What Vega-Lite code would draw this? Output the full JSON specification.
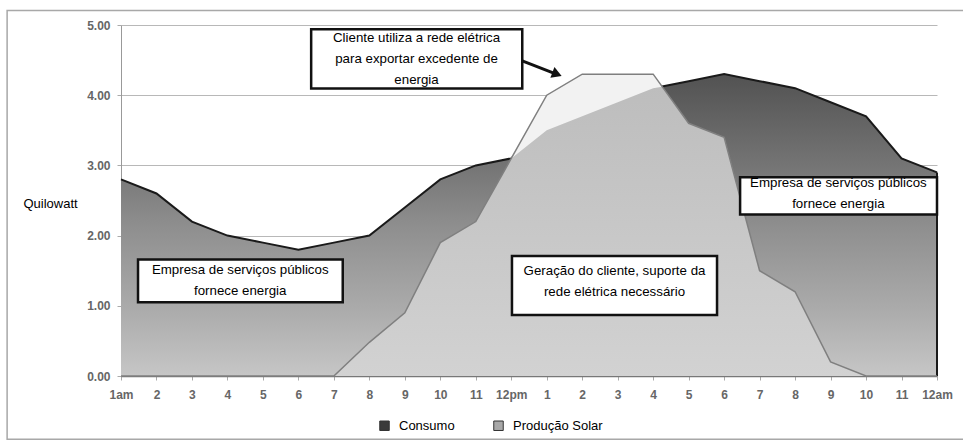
{
  "$schema": "https://vega.github.io/schema/vega-lite/v6.json",
  "autosize": "none",
  "width": 816,
  "height": 351,
  "padding": {"left": 121, "top": 25, "right": 26, "bottom": 68},
  "background": "white",
  "config": {"view": {"stroke": null}, "font": "Liberation Sans"},
  "datasets": {
    "dados": [
      {"h": 1, "serie": "Consumo", "v": 2.8},
      {"h": 2, "serie": "Consumo", "v": 2.6},
      {"h": 3, "serie": "Consumo", "v": 2.2},
      {"h": 4, "serie": "Consumo", "v": 2.0},
      {"h": 5, "serie": "Consumo", "v": 1.9},
      {"h": 6, "serie": "Consumo", "v": 1.8},
      {"h": 7, "serie": "Consumo", "v": 1.9},
      {"h": 8, "serie": "Consumo", "v": 2.0},
      {"h": 9, "serie": "Consumo", "v": 2.4},
      {"h": 10, "serie": "Consumo", "v": 2.8},
      {"h": 11, "serie": "Consumo", "v": 3.0},
      {"h": 12, "serie": "Consumo", "v": 3.1},
      {"h": 13, "serie": "Consumo", "v": 3.5},
      {"h": 14, "serie": "Consumo", "v": 3.7},
      {"h": 15, "serie": "Consumo", "v": 3.9},
      {"h": 16, "serie": "Consumo", "v": 4.1},
      {"h": 17, "serie": "Consumo", "v": 4.2},
      {"h": 18, "serie": "Consumo", "v": 4.3},
      {"h": 19, "serie": "Consumo", "v": 4.2},
      {"h": 20, "serie": "Consumo", "v": 4.1},
      {"h": 21, "serie": "Consumo", "v": 3.9},
      {"h": 22, "serie": "Consumo", "v": 3.7},
      {"h": 23, "serie": "Consumo", "v": 3.1},
      {"h": 24, "serie": "Consumo", "v": 2.9},
      {"h": 1, "serie": "Produção Solar", "v": 0},
      {"h": 2, "serie": "Produção Solar", "v": 0},
      {"h": 3, "serie": "Produção Solar", "v": 0},
      {"h": 4, "serie": "Produção Solar", "v": 0},
      {"h": 5, "serie": "Produção Solar", "v": 0},
      {"h": 6, "serie": "Produção Solar", "v": 0},
      {"h": 7, "serie": "Produção Solar", "v": 0},
      {"h": 8, "serie": "Produção Solar", "v": 0.48},
      {"h": 9, "serie": "Produção Solar", "v": 0.9},
      {"h": 10, "serie": "Produção Solar", "v": 1.9},
      {"h": 11, "serie": "Produção Solar", "v": 2.2},
      {"h": 12, "serie": "Produção Solar", "v": 3.1},
      {"h": 13, "serie": "Produção Solar", "v": 4.0},
      {"h": 14, "serie": "Produção Solar", "v": 4.3},
      {"h": 15, "serie": "Produção Solar", "v": 4.3},
      {"h": 16, "serie": "Produção Solar", "v": 4.3},
      {"h": 17, "serie": "Produção Solar", "v": 3.6},
      {"h": 18, "serie": "Produção Solar", "v": 3.4},
      {"h": 19, "serie": "Produção Solar", "v": 1.5},
      {"h": 20, "serie": "Produção Solar", "v": 1.2},
      {"h": 21, "serie": "Produção Solar", "v": 0.2},
      {"h": 22, "serie": "Produção Solar", "v": 0},
      {"h": 23, "serie": "Produção Solar", "v": 0},
      {"h": 24, "serie": "Produção Solar", "v": 0},
      {"h": 7, "serie": "Autoconsumo", "v": 0},
      {"h": 8, "serie": "Autoconsumo", "v": 0.48},
      {"h": 9, "serie": "Autoconsumo", "v": 0.9},
      {"h": 10, "serie": "Autoconsumo", "v": 1.9},
      {"h": 11, "serie": "Autoconsumo", "v": 2.2},
      {"h": 12, "serie": "Autoconsumo", "v": 3.1},
      {"h": 13, "serie": "Autoconsumo", "v": 3.5},
      {"h": 14, "serie": "Autoconsumo", "v": 3.7},
      {"h": 15, "serie": "Autoconsumo", "v": 3.9},
      {"h": 16, "serie": "Autoconsumo", "v": 4.1},
      {"h": 16.25, "serie": "Autoconsumo", "v": 4.12},
      {"h": 17, "serie": "Autoconsumo", "v": 3.6},
      {"h": 18, "serie": "Autoconsumo", "v": 3.4},
      {"h": 19, "serie": "Autoconsumo", "v": 1.5},
      {"h": 20, "serie": "Autoconsumo", "v": 1.2},
      {"h": 21, "serie": "Autoconsumo", "v": 0.2},
      {"h": 22, "serie": "Autoconsumo", "v": 0}
    ],
    "caixas": [
      {"h": 6.36, "h2": 12.31, "v": 4.94, "v2": 4.095},
      {"h": 1.48, "h2": 7.25, "v": 1.66, "v2": 1.05},
      {"h": 12.02, "h2": 17.8, "v": 1.71, "v2": 0.87},
      {"h": 18.45, "h2": 24.0, "v": 2.83, "v2": 2.3}
    ],
    "rotulos": [
      {"h": 9.33, "v": 4.81, "texto": "Cliente utiliza a rede elétrica\npara exportar excedente de\nenergia"},
      {"h": 4.36, "v": 1.51, "texto": "Empresa de serviços públicos\nfornece energia"},
      {"h": 14.91, "v": 1.49, "texto": "Geração do cliente, suporte da\nrede elétrica necessário"},
      {"h": 21.22, "v": 2.745, "texto": "Empresa de serviços públicos\nfornece energia"}
    ],
    "seta": [
      {"h": 12.31, "v": 4.49, "h2": 13.27, "v2": 4.3}
    ],
    "ponta": [
      {"h": 13.29, "v": 4.3}
    ],
    "moldura": [
      {"h": -2.21, "h2": 25.2, "v": 5.206, "v2": -0.9}
    ],
    "legenda": [
      {"serie": "Consumo"},
      {"serie": "Produção Solar"}
    ]
  },
  "encoding": {
    "x": {
      "field": "h", "type": "quantitative",
      "scale": {"domain": [1, 24], "nice": false, "zero": false},
      "axis": {
        "title": null,
        "values": [1, 2, 3, 4, 5, 6, 7, 8, 9, 10, 11, 12, 13, 14, 15, 16, 17, 18, 19, 20, 21, 22, 23, 24],
        "labelExpr": "datum.value == 1 ? '1am' : datum.value == 12 ? '12pm' : datum.value == 24 ? '12am' : datum.value > 12 ? '' + (datum.value - 12) : '' + datum.value",
        "labelFlush": false,
        "labelOverlap": false,
        "grid": false,
        "tickSize": 4,
        "tickColor": "#aaaaaa",
        "domainColor": "#777777",
        "domainWidth": 1.5,
        "labelPadding": 9,
        "labelFontSize": 12,
        "labelFontWeight": "bold",
        "labelColor": "#666666",
        "labelFont": "Liberation Sans"
      }
    },
    "y": {
      "field": "v", "type": "quantitative",
      "scale": {"domain": [0, 5], "nice": false},
      "axis": {
        "title": "Quilowatt",
        "titleAngle": 0,
        "titleAlign": "left",
        "titleBaseline": "middle",
        "titleX": -98,
        "titleY": 178,
        "titleFontWeight": "normal",
        "titleFontSize": 13,
        "titleColor": "#000000",
        "titleFont": "Liberation Sans",
        "values": [0, 1, 2, 3, 4, 5],
        "format": ".2f",
        "grid": true,
        "gridColor": "#b8b8b8",
        "tickSize": 4,
        "tickColor": "#aaaaaa",
        "domainColor": "#999999",
        "labelPadding": 7,
        "labelFontSize": 12,
        "labelFontWeight": "bold",
        "labelColor": "#666666",
        "labelFont": "Liberation Sans"
      }
    }
  },
  "layer": [
    {
      "data": {"name": "dados"},
      "transform": [{"filter": "datum.serie == 'Consumo'"}],
      "mark": {
        "type": "area",
        "fill": {
          "gradient": "linear", "x1": 0, "y1": 0, "x2": 0, "y2": 1,
          "stops": [
            {"offset": 0, "color": "#525252"},
            {"offset": 0.3, "color": "#747474"},
            {"offset": 0.5, "color": "#8e8e8e"},
            {"offset": 0.78, "color": "#ababab"},
            {"offset": 1, "color": "#c6c6c6"}
          ]
        }
      }
    },
    {
      "data": {"name": "moldura"},
      "mark": {"type": "rect", "fill": null, "stroke": "#a8a8a8", "strokeWidth": 1.5},
      "encoding": {"x2": {"field": "h2"}, "y2": {"field": "v2"}}
    },
    {
      "data": {"name": "dados"},
      "transform": [{"filter": "datum.serie == 'Consumo'"}],
      "mark": {"type": "line", "stroke": "#1a1a1a", "strokeWidth": 2}
    },
    {
      "data": {"name": "dados"},
      "transform": [{"filter": "datum.serie == 'Consumo' && datum.h == 24"}],
      "mark": {"type": "rule", "stroke": "#1a1a1a", "strokeWidth": 2},
      "encoding": {"y2": {"datum": 0}}
    },
    {
      "data": {"name": "dados"},
      "transform": [{"filter": "datum.serie == 'Produção Solar'"}],
      "mark": {"type": "area", "fill": "#f2f2f2"}
    },
    {
      "data": {"name": "dados"},
      "transform": [{"filter": "datum.serie == 'Autoconsumo'"}],
      "mark": {
        "type": "area",
        "fill": {
          "gradient": "linear", "x1": 0, "y1": 0, "x2": 0, "y2": 1,
          "stops": [
            {"offset": 0, "color": "#bdbdbd"},
            {"offset": 1, "color": "#d2d2d2"}
          ]
        }
      }
    },
    {
      "data": {"name": "dados"},
      "transform": [{"filter": "datum.serie == 'Produção Solar'"}],
      "mark": {"type": "line", "stroke": "#7f7f7f", "strokeWidth": 1.5}
    },
    {
      "data": {"name": "caixas"},
      "mark": {"type": "rect", "fill": "white", "stroke": "#111111", "strokeWidth": 2.5},
      "encoding": {"x2": {"field": "h2"}, "y2": {"field": "v2"}}
    },
    {
      "data": {"name": "rotulos"},
      "mark": {"type": "text", "lineBreak": "\n", "align": "center", "baseline": "middle", "fontSize": 13.3, "lineHeight": 21, "font": "Liberation Sans", "color": "#000000"},
      "encoding": {"text": {"field": "texto", "type": "nominal"}}
    },
    {
      "data": {"name": "seta"},
      "mark": {"type": "rule", "stroke": "#111111", "strokeWidth": 3},
      "encoding": {"x2": {"field": "h2"}, "y2": {"field": "v2"}}
    },
    {
      "data": {"name": "ponta"},
      "mark": {"type": "point", "shape": "triangle-right", "angle": 21, "filled": true, "fill": "#111111", "opacity": 1, "size": 130, "strokeWidth": 0}
    },
    {
      "data": {"name": "legenda"},
      "mark": {"type": "square", "opacity": 0},
      "encoding": {
        "color": {
          "field": "serie", "type": "nominal",
          "scale": {"domain": ["Consumo", "Produção Solar"], "range": ["#3a3a3a", "#a8a8a8"]},
          "legend": {
            "title": null,
            "orient": "none",
            "direction": "horizontal",
            "legendX": 257,
            "legendY": 394,
            "padding": 0,
            "symbolType": "square",
            "symbolSize": 90,
            "symbolOpacity": 1,
            "symbolStrokeColor": "#333333",
            "symbolStrokeWidth": 1,
            "labelFontSize": 13,
            "labelFont": "Liberation Sans",
            "labelColor": "#000000",
            "labelOffset": 8,
            "columnPadding": 36
          }
        }
      }
    }
  ]
}
